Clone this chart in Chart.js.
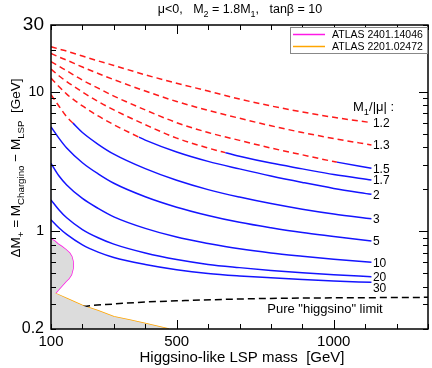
<!DOCTYPE html>
<html><head><meta charset="utf-8">
<script src="https://cdn.jsdelivr.net/npm/chart.js@4.4.1/dist/chart.umd.min.js"></script>
<style>html,body{margin:0;padding:0;background:#fff;}#wrap{width:432px;height:368px;}</style>
</head><body><div id="wrap"><canvas id="c" width="432" height="368"></canvas></div>
<script>
// ---- data ----
const mu = [100,125,150,200,250,300,400,500,600,700,800,900,1000,1120];
const ratioLabels = ['1.2','1.3','1.5','1.7','2','3','5','10','20','30'];
const dm12 = [21.0,20.2,19.5,18.0,16.6,15.4,13.2,11.5,10.1,8.85,7.9,7.15,6.55,6.0];
const dm13 = [18.8,17.7,16.8,15.0,13.5,12.2,10.1,8.5,7.35,6.45,5.7,5.1,4.62,4.15];
const dm15 = [16.4,15.2,14.1,12.1,10.6,9.3,7.4,6.0,5.1,4.48,3.95,3.53,3.16,2.83];
const dm17 = [14.5,13.0,11.8,9.95,8.5,7.4,5.8,4.65,3.95,3.45,3.08,2.8,2.55,2.33];
const dm2  = [12.5,10.9,9.6,7.9,6.7,5.8,4.5,3.7,3.17,2.8,2.49,2.24,2.03,1.84];
const dm3  = [9.5,7.9,6.6,5.1,4.2,3.57,2.81,2.32,1.99,1.76,1.58,1.44,1.33,1.23];
const dm5  = [5.6,4.65,3.95,3.1,2.58,2.21,1.77,1.49,1.30,1.16,1.06,0.98,0.92,0.854];
const dm10 = [3.07,2.5,2.15,1.72,1.46,1.27,1.05,0.91,0.82,0.75,0.70,0.663,0.631,0.60];
const dm20 = [1.68,1.43,1.25,1.03,0.90,0.81,0.70,0.628,0.58,0.55,0.525,0.505,0.489,0.474];
const dm30 = [1.21,1.06,0.95,0.80,0.71,0.65,0.58,0.532,0.50,0.48,0.465,0.452,0.441,0.432];
// mass where each curve changes from red dashed to solid blue, and its value there
const solidFromMu = [null,null,1010,655,380,170,100,100,100,100];
const solidFromDm = [null,null,3.13,3.66,4.72,5.95,null,null,null,null];
// pure higgsino limit
const limitMu = [100,150,200,300,400,500,700,900,1100,1300];
const limitDm = [0.255,0.274,0.289,0.302,0.312,0.318,0.328,0.333,0.335,0.337];
// ATLAS 2401.14046 (magenta)
const pinkMu = [100,112,123,134,147,159,166,170,171,170,165,157,148,136,123,114,107,100];
const pinkDm = [0.88,0.85,0.81,0.78,0.74,0.70,0.66,0.61,0.57,0.54,0.49,0.46,0.44,0.41,0.38,0.36,0.34,0.32];
// ATLAS 2201.02472 (orange)
const orangeMu = [100,150,200,250,300,350,400,475];
const orangeDm = [0.37,0.331,0.295,0.27,0.245,0.232,0.219,0.2];
const xTickVals = [100,200,300,400,500,600,700,800,900,1000,1100,1200,1300];
const xLabelVals = [100,500,1000];
const yTickVals = [0.2,0.3,0.4,0.5,0.6,0.7,0.8,0.9,1,2,3,4,5,6,7,8,9,10,20,30];
const yLabelVals = [0.2,1,10,30];

// ---- styling ----
const FAM = '"Liberation Sans", Arial, Helvetica, sans-serif';
const RED = '#ff1a1a', BLUE = '#1414ff', PINK = '#ff19e6', ORANGE = '#ffa500';
const DASH = [6,4];
const LABEL_DY = {'30': 5};

const curveArrays = [dm12,dm13,dm15,dm17,dm2,dm3,dm5,dm10,dm20,dm30];
const curveSets = curveArrays.map((arr,i)=>{
  const pts = mu.map((m,j)=>({x:m,y:arr[j]}));
  const s = solidFromMu[i];
  if (s !== null && solidFromDm[i] !== null) { pts.push({x:s,y:solidFromDm[i]}); pts.sort((a,b)=>a.x-b.x); }
  const sv = s === null ? Infinity : s;
  return {
    label: ratioLabels[i], data: pts, pointRadius: 0, borderWidth: 1.5, fill: false,
    cubicInterpolationMode: 'monotone', isCurve: true,
    borderColor: sv <= 100 ? BLUE : RED, borderDash: sv <= 100 ? [] : DASH,
    segment: {
      borderColor: c => c.p0.parsed.x >= sv - 1e-6 ? BLUE : RED,
      borderDash: c => c.p0.parsed.x >= sv - 1e-6 ? [] : DASH
    }
  };
});

const shadePts = [];
for (let i=0;i<16;i++) shadePts.push({x:pinkMu[i], y:pinkDm[i]});
orangeMu.forEach((m,i)=>{ if (m > pinkMu[15]) shadePts.push({x:m,y:orangeDm[i]}); });
shadePts.push({x:100,y:0.2});

const datasets = [
  {label:'shade', data: shadePts, pointRadius:0, borderWidth:0, borderColor:'rgba(0,0,0,0)', backgroundColor:'#dcdcdc', fill:'shape', tension:0},
  {label:'limit', data: limitMu.map((m,i)=>({x:m,y:limitDm[i]})), pointRadius:0, borderWidth:1.5, borderColor:'#000', borderDash:[7,4], fill:false, cubicInterpolationMode:'monotone'},
  {label:'ATLAS 2201.02472', data: orangeMu.map((m,i)=>({x:m,y:orangeDm[i]})), pointRadius:0, borderWidth:1.5, borderColor:ORANGE, fill:false, tension:0},
  {label:'ATLAS 2401.14046', data: pinkMu.map((m,i)=>({x:m,y:pinkDm[i]})), pointRadius:0, borderWidth:1.5, borderColor:PINK, fill:false, tension:0},
  ...curveSets
];

function drawRich(ctx, parts, x, y, size, align) {
  const subSize = size*0.72;
  let w = 0;
  parts.forEach(p=>{ ctx.font = (p[1]?subSize:size)+'px '+FAM; w += ctx.measureText(p[0]).width; });
  let cx = align==='center' ? x - w/2 : (align==='right' ? x - w : x);
  ctx.textAlign = 'left'; ctx.textBaseline = 'alphabetic';
  parts.forEach(p=>{
    ctx.font = (p[1]?subSize:size)+'px '+FAM;
    const dy = p[1]==='sub' ? size*0.3 : 0;
    ctx.fillText(p[0], cx, y+dy);
    cx += ctx.measureText(p[0]).width;
  });
}

const decor = {
  id: 'decor',
  afterDatasetsDraw(chart) {
    const ctx = chart.ctx, xs = chart.scales.x, ys = chart.scales.y, a = chart.chartArea;
    ctx.save();
    ctx.fillStyle = '#000';
    // curve labels
    chart.data.datasets.forEach((ds,i)=>{
      if (!ds.isCurve) return;
      const last = ds.data[ds.data.length-1];
      const px = xs.getPixelForValue(last.x), py = ys.getPixelForValue(last.y);
      ctx.font = '12px '+FAM; ctx.textAlign='left'; ctx.textBaseline='middle';
      ctx.fillText(ds.label, px+1.5, py+1+(LABEL_DY[ds.label]||0));
    });
    // M1/|mu| header
    drawRich(ctx, [['M'],['1','sub'],['/|μ| :']], 353, 111, 13, 'left');
    // pure higgsino text
    ctx.font = '13px '+FAM; ctx.textAlign='center'; ctx.textBaseline='alphabetic';
    ctx.fillText('Pure "higgsino" limit', 325, 313);
    // frame
    ctx.strokeStyle = '#000'; ctx.lineWidth = 1.5;
    ctx.strokeRect(a.left, a.top, a.right-a.left, a.bottom-a.top);
    // ticks
    ctx.lineWidth = 1;
    ctx.beginPath();
    xTickVals.forEach(v=>{
      const px = Math.round(xs.getPixelForValue(v))+0.5;
      const L = (v%500===0) ? 9 : 5;
      ctx.moveTo(px, a.bottom); ctx.lineTo(px, a.bottom-L);
      ctx.moveTo(px, a.top); ctx.lineTo(px, a.top+L);
    });
    yTickVals.forEach(v=>{
      const py = Math.round(ys.getPixelForValue(v))+0.5;
      const L = (v===1||v===10) ? 9 : 5;
      ctx.moveTo(a.left, py); ctx.lineTo(a.left+L, py);
      ctx.moveTo(a.right, py); ctx.lineTo(a.right-L, py);
    });
    ctx.stroke();
    // legend
    const lx=290, ly=27, lw=137, lh=26;
    ctx.fillStyle='#fff'; ctx.fillRect(lx,ly,lw,lh);
    ctx.strokeStyle='#888'; ctx.lineWidth=1; ctx.strokeRect(lx+0.5,ly+0.5,lw,lh);
    const items=[['ATLAS 2401.14046',PINK,34.5],['ATLAS 2201.02472',ORANGE,46.5]];
    items.forEach(it=>{
      ctx.strokeStyle=it[1]; ctx.lineWidth=1.5;
      ctx.beginPath(); ctx.moveTo(293,it[2]); ctx.lineTo(325,it[2]); ctx.stroke();
      ctx.fillStyle='#000'; ctx.font='10.5px '+FAM; ctx.textAlign='left'; ctx.textBaseline='middle';
      ctx.fillText(it[0],332,it[2]+0.5);
    });
    // title
    ctx.fillStyle='#000';
    drawRich(ctx, [['μ<0,   M'],['2','sub'],[' = 1.8M'],['1','sub'],[',   tanβ = 10']], 240, 13, 12.5, 'center');
    // x title
    ctx.font='15px '+FAM; ctx.textAlign='center'; ctx.textBaseline='alphabetic';
    ctx.fillText('Higgsino-like LSP mass  [GeV]', 242, 362);
    // y title
    ctx.save();
    ctx.translate(20, 168); ctx.rotate(-Math.PI/2);
    drawRich(ctx, [['ΔM'],['+','sub'],[' = M'],['Chargino','sub'],[' − M'],['LSP','sub'],['  [GeV]']], 0, 0, 13.5, 'center');
    ctx.restore();
    ctx.restore();
  }
};

new Chart(document.getElementById('c'), {
  type: 'line',
  data: { datasets },
  options: {
    responsive: false, animation: false, devicePixelRatio: 1,
    layout: { padding: { top: 25, right: 2, left: 0, bottom: 0 } },
    plugins: { legend: { display: false }, title: { display: false }, tooltip: { enabled: false } },
    scales: {
      x: {
        type: 'linear', min: 100, max: 1300,
        afterBuildTicks: s => { s.ticks = xTickVals.map(v=>({value:v})); },
        afterFit: s => { s.height = 39; },
        grid: { display: false, drawTicks: false }, border: { display: false },
        ticks: { autoSkip: false, maxRotation: 0, padding: 4, color: '#000',
          font: { size: 15, family: FAM },
          callback: v => xLabelVals.includes(v) ? String(v) : '' }
      },
      y: {
        type: 'logarithmic', min: 0.2, max: 30,
        afterBuildTicks: s => { s.ticks = yTickVals.map(v=>({value:v})); },
        afterFit: s => { s.width = 51; },
        grid: { display: false, drawTicks: false }, border: { display: false },
        ticks: { autoSkip: false, padding: 7, color: '#000',
          font: c => ({ size: (c.tick && (c.tick.value===30)) ? 19 : (c.tick && c.tick.value===0.2 ? 16 : 14), family: FAM }),
          callback: v => yLabelVals.includes(v) ? String(v) : '' }
      }
    }
  },
  plugins: [decor]
});
</script></body></html>
